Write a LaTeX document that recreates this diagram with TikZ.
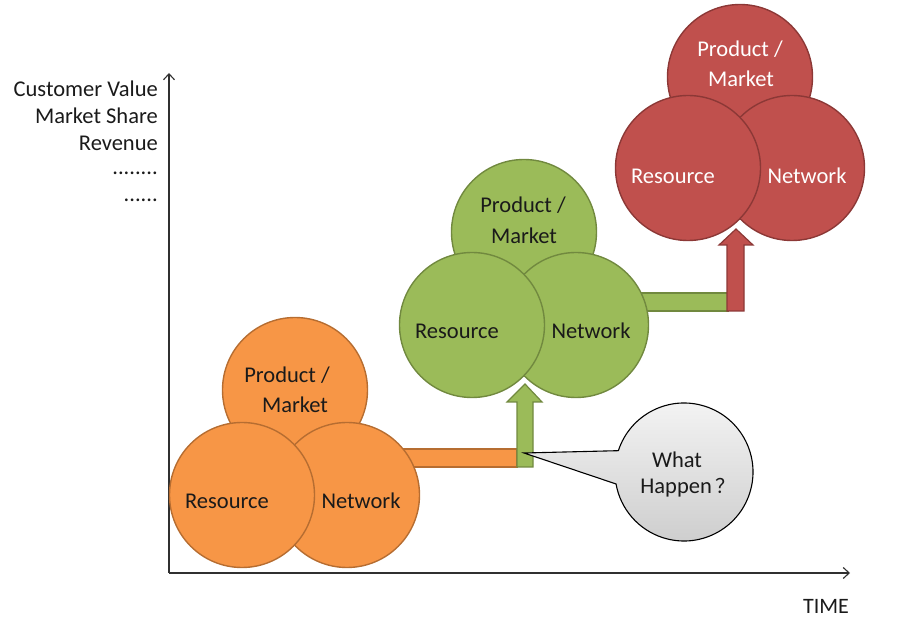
\documentclass[tikz,border=0pt]{standalone}
\usepackage{fontspec}
\setmainfont{Carlito}
\newfontfamily\cjk{Noto Sans CJK SC}
\usetikzlibrary{arrows.meta,calc}
\definecolor{oFill}{HTML}{F79646}
\definecolor{oLine}{HTML}{B66D31}
\definecolor{gFill}{HTML}{9BBB59}
\definecolor{gLine}{HTML}{71893F}
\definecolor{rFill}{HTML}{C0504D}
\definecolor{rLine}{HTML}{8C3836}
\definecolor{axisCol}{HTML}{303030}
\definecolor{txtCol}{HTML}{1A1A1A}
\begin{document}
\begin{tikzpicture}[x=1pt,y=1pt,
  circ/.style={circle,minimum size=145pt,inner sep=0pt,line width=1.4pt},
  ocirc/.style={circ,fill=oFill,draw=oLine},
  gcirc/.style={circ,fill=gFill,draw=gLine},
  rcirc/.style={circ,fill=rFill,draw=rLine},
  lbl/.style={font=\fontsize{22.5}{26}\selectfont,inner sep=0pt,text=txtCol},
  wlbl/.style={lbl,text=white},
  axlbl/.style={font=\fontsize{22.5}{26}\selectfont,inner sep=0pt,text=txtCol,anchor=east},
  obar/.style={fill=oFill,draw=oLine,line width=1.2pt},
  gbar/.style={fill=gFill,draw=gLine,line width=1.2pt},
  rbar/.style={fill=rFill,draw=rLine,line width=1.2pt},
  axis/.style={draw=axisCol,line width=1.1pt,-{Straight Barb[length=6pt,width=11pt]}}
]
\useasboundingbox (0,0) rectangle (900,640);

% axes
\coordinate (O) at (169,67);
\coordinate (Ytop) at (169,567);
\coordinate (Xend) at (850,67);
\draw[axis] (O) -- (Ytop);
\draw[axis] (O) -- (Xend);

\node[axlbl] (yl1) at (158,551) {Customer Value};
\node[axlbl] (yl2) at (158,524) {Market Share};
\node[axlbl] (yl3) at (158,497) {Revenue};
\node[axlbl] (yl4) at (158,467) {........};
\node[axlbl] (yl5) at (158,440) {......};
\node[font=\fontsize{22}{26}\selectfont,inner sep=0pt,text=txtCol] (time) at (826,34) {TIME};

% connecting bars (behind circles)
\draw[obar] (380,173) rectangle (517,191);
\draw[gbar] (620,329) rectangle (728,347);

% orange group
\node[ocirc] (oP) at (295,250) {};
\node[ocirc] (oN) at (347,145) {};
\node[ocirc] (oR) at (242,145) {};
\node[lbl] (oPt1) at (287,265) {Product /};
\node[lbl] (oPt2) at (295,235) {Market};
\node[lbl] (oRt) at (227,139) {Resource};
\node[lbl] (oNt) at (361,139) {Network};

% green group
\node[gcirc] (gP) at (524,408) {};
\node[gcirc] (gN) at (576,315) {};
\node[gcirc] (gR) at (472,315) {};
\node[lbl] (gPt1) at (523,435) {Product /};
\node[lbl] (gPt2) at (524,404) {Market};
\node[lbl] (gRt) at (457,309) {Resource};
\node[lbl] (gNt) at (591,309) {Network};

% red group
\node[rcirc] (rP) at (740,563) {};
\node[rcirc] (rN) at (792,472) {};
\node[rcirc] (rR) at (688,472) {};
\node[wlbl] (rPt1) at (740,591) {Product /};
\node[wlbl] (rPt2) at (741,561) {Market};
\node[wlbl] (rRt) at (673,464) {Resource};
\node[wlbl] (rNt) at (807,464) {Network};

% up arrows
\draw[gbar] (517,173) -- (533,173) -- (533,238) -- (542,238) -- (525,256)
  -- (507,238) -- (517,238) -- cycle;
\draw[rbar] (727,329) -- (744,329) -- (744,395) -- (753,395) -- (736,411)
  -- (719,395) -- (727,395) -- cycle;

% speech bubble
\coordinate (bc) at (684,168);
\coordinate (tip) at (524,187);
\shade[top color=gray!8,bottom color=gray!40,draw=black,line width=1.1pt]
  (tip) -- ($(bc)+(162:69)$) arc[start angle=162,end angle=-170,radius=69] -- cycle;
\node[lbl] (wq1) at (677,180) {What};
\node[lbl] (wq2) at (688,152) {Happen\,{\cjk\fontsize{20}{24}\selectfont ？}};
\end{tikzpicture}
\end{document}
